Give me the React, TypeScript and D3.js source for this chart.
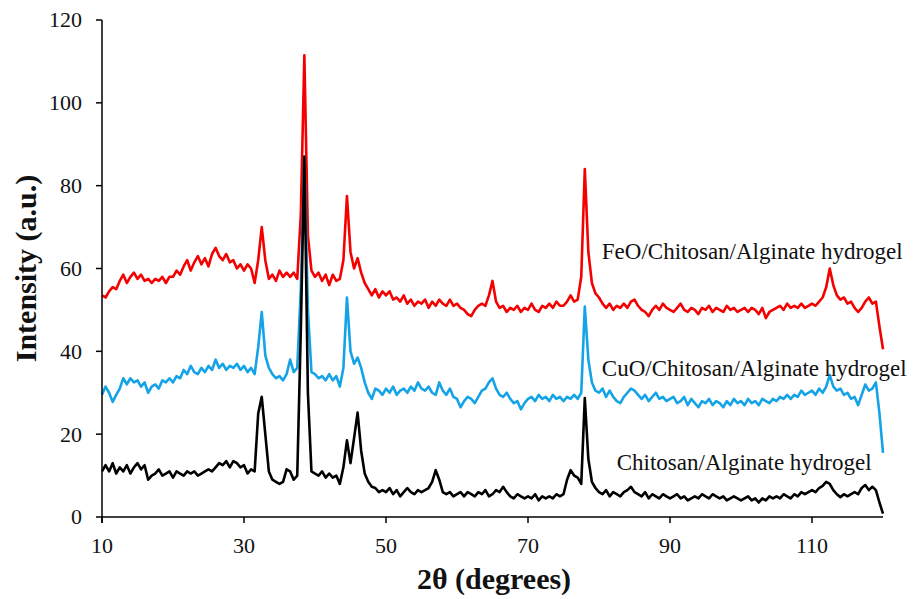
import React from "react";
import * as d3 from "d3";

// 2θ grid (degrees), 0.5° step from 10 to 120
const twoTheta: number[] = d3.range(0, 221).map((i) => 10 + i * 0.5);

const feoValues: number[] = [
  53.5, 53, 54.5, 55.5, 55, 57, 58.5, 56.5, 58, 59,
  57.5, 58.5, 57, 57.5, 56.5, 57.5, 57, 58, 56.5, 58,
  58, 59.5, 58.5, 60.5, 62, 59.5, 61.5, 63, 61, 62.5,
  60.5, 63.5, 65, 63, 62, 63.5, 61.5, 62, 60, 61,
  59.5, 61, 60, 56.5, 62, 70, 62, 57.5, 58.5, 57,
  59.5, 58, 59, 58, 59, 57.5, 73, 111.5, 68, 59.5,
  58, 59, 57, 58.5, 56, 58.5, 57, 57.5, 62, 77.5,
  64, 60, 62.5, 59, 56.5, 55, 53.5, 55, 53, 54.5,
  53.5, 54.5, 52.5, 53, 52, 53.5, 51.5, 52.5, 51, 52,
  51.5, 52.5, 50.5, 52, 51, 52.5, 51.5, 51, 52.5, 51,
  51.5, 50.5, 50, 49, 48.5, 50, 51, 51.5, 51, 53.5,
  57, 52, 50.5, 51, 49.5, 50.5, 50, 51, 49.5, 50.5,
  50, 51.5, 50, 49.5, 51, 50.5, 51.5, 50.5, 52, 51,
  51, 52, 53.5, 52, 52.5, 58, 84, 64, 56.5, 54,
  53, 51.5, 50.5, 51.5, 50, 51, 50.5, 51.5, 50.5, 52,
  52.5, 51, 50, 49.5, 48.5, 50, 51, 50, 51.5, 50.5,
  50, 49.5, 50.5, 51.5, 50, 49.5, 50.5, 50, 49, 50.5,
  50, 51, 49.5, 50.5, 50, 49.5, 51, 50, 50.5, 49.5,
  50, 50.5, 49.5, 50.5, 50, 49, 50.5, 48, 49.5, 50,
  50.5, 51, 50, 51.5, 50.5, 51, 50.5, 51.5, 50.5, 51,
  51.5, 51, 52, 53, 55.5, 60, 56, 53.5, 52.5, 53,
  51.5, 52, 50.5, 49.5, 50.5, 52, 53, 51.5, 52, 46,
  40.5,
];

const cuoValues: number[] = [
  29.5, 31.5, 30, 27.8, 29.5, 31, 33.5, 32, 33.5, 32.5,
  33, 31.5, 32.5, 30, 31.5, 32, 31, 33, 32.5, 33.5,
  32.5, 34, 33.5, 35.5, 34.5, 36.5, 35, 34.5, 36, 35,
  36.5, 35.5, 38, 36, 37, 35.5, 36.5, 36, 37, 35.5,
  36.5, 35, 36, 34.5, 41, 49.5, 39, 36, 34.5, 33.5,
  34, 33, 34.5, 38, 35, 36, 55, 87, 50, 35,
  34.5, 33.5, 34, 33, 34.5, 33, 34, 31.5, 36, 53,
  40, 37, 38.5, 36, 32.5, 30, 28.5, 31, 30.5, 29.5,
  31, 30, 31.5, 29.5, 30.5, 31, 30, 31.5, 30.5, 32.5,
  31, 30.5, 31.5, 30, 29.5, 32.5, 30.5, 29.5, 31, 29,
  28.5, 26.5, 28, 29, 28.5, 27.5, 29, 30.5, 31, 32.5,
  33.5, 31, 29.5, 29, 30, 28.5, 27.5, 28, 26, 27.5,
  28.5, 29, 28, 29.5, 28.5, 29, 28, 29.5, 28.5, 29,
  28, 29, 28.5, 29.5, 28.5, 30, 50.8, 38, 32.5, 30.5,
  30, 31, 29, 30.5, 29, 28, 27.5, 29, 30, 31,
  30.5, 29.5, 28.5, 29.5, 28, 29, 30, 28.5, 29, 28,
  28.5, 29, 27.5, 28, 29, 27, 28.5, 27.5, 26.5, 28,
  27.5, 28.5, 27, 28, 27.5, 26.5, 28, 27, 28.5, 27.5,
  28, 27, 28.5, 27.5, 28, 27, 28.5, 28, 27.5, 28.5,
  28, 29, 28.5, 29.5, 28.5, 29.5, 29, 30.5, 29.5, 30,
  30.5, 29.5, 31, 30, 31.5, 34.3, 31.5, 30.5, 31, 29.5,
  30, 28.5, 29, 27, 29.5, 32, 30.5, 31, 32.5, 25,
  15.5,
];

const chitosanValues: number[] = [
  11, 12.5, 11, 13, 10.5, 12, 11, 12.5, 10.5, 12,
  13, 11.5, 12.5, 9, 10, 10.5, 11.5, 10, 10.5, 11,
  9.5, 11, 10.5, 10, 11, 10.5, 11, 10, 10.5, 11,
  11.5, 11, 12, 13, 12.5, 13.5, 12, 13.5, 13, 12,
  12.5, 10.5, 11.5, 11, 25, 29, 20, 11, 9, 8.5,
  8, 8.5, 11.5, 11, 9, 10, 45, 87, 30, 11,
  10.5, 10, 11, 9.5, 10.5, 9.5, 10, 8, 12, 18.5,
  13, 19, 25.2, 16, 10.5, 8.5, 7.3, 7, 6, 6.5,
  6, 7, 5.5, 6.5, 5, 6, 7, 6, 5.5, 6.5,
  6, 6.5, 7, 8.5, 11.3, 9, 6, 5.5, 6, 5,
  5.5, 6, 5, 6, 5.5, 5, 6, 5.5, 6.5, 5,
  5.5, 6.5, 6, 7.3, 6, 5, 4.5, 5.5, 5, 4.5,
  5, 4.5, 5.5, 4, 5, 4.5, 5, 4.5, 5.5, 5,
  5.5, 9, 11.3, 10, 9.5, 8, 28.7, 14, 8.5, 7,
  6, 5.5, 6.5, 5, 6, 5.5, 5, 6, 6.5, 7.3,
  6, 5.5, 5, 6, 4.5, 5.5, 5, 4.5, 5.5, 5,
  4.5, 5, 5.5, 4.5, 5, 4, 4.5, 5, 4.5, 5.5,
  5, 4.5, 5.5, 5, 4.5, 5, 4, 4.5, 5, 4.5,
  4, 4.5, 5, 4, 4.5, 3.5, 4.5, 4, 5, 4.5,
  5, 4.5, 5.5, 5, 4.5, 5.5, 5, 6, 5.5, 6,
  6.5, 6, 7, 7.5, 8.5, 8, 6.5, 5.5, 4.8, 5.5,
  5, 5.5, 6, 5.5, 7, 7.7, 6.5, 7.3, 6.5, 3.5,
  0.8,
];

const xTicks: number[] = [10, 30, 50, 70, 90, 110];
const yTicks: number[] = [0, 20, 40, 60, 80, 100, 120];

const seriesNames: string[] = [
  "FeO/Chitosan/Alginate hydrogel",
  "CuO/Chitosan/Alginate hydrogel",
  "Chitosan/Alginate hydrogel",
];
const labelAnchors: [number, number][] = [
  [80.4, 62.3],
  [80.4, 34],
  [82.5, 11.3],
];
const seriesColors: string[] = ["#f40000", "#14a3e6", "#000000"];

const W = 913;
const H = 599;
const FONT = '"Liberation Serif", "Times New Roman", serif';

export default function App() {
  const x = d3.scaleLinear().domain([10, 120]).range([102, 883]);
  const y = d3.scaleLinear().domain([0, 120]).range([517, 20]);
  const line = d3
    .line<number>()
    .x((_, i) => x(twoTheta[i]))
    .y((d) => y(d));

  const series = [feoValues, cuoValues, chitosanValues];

  return (
    <svg
      width={W}
      height={H}
      viewBox={`0 0 ${W} ${H}`}
      style={{ position: "absolute", left: 0, top: 0, background: "#fff" }}
      fontFamily={FONT}
    >
      <rect x={0} y={0} width={W} height={H} fill="#fff" />
      {series.map((vals, si) => (
        <path
          key={si}
          d={line(vals) || ""}
          fill="none"
          stroke={seriesColors[si]}
          strokeWidth={2.6}
          strokeLinejoin="round"
        />
      ))}
      {/* axes */}
      <line x1={x(10)} x2={x(10)} y1={y(120)} y2={y(0) + 6} stroke="#000" strokeWidth={1.5} />
      <line x1={x(10)} x2={x(120)} y1={y(0)} y2={y(0)} stroke="#000" strokeWidth={1.5} />
      {yTicks.map((t) => (
        <g key={"y" + t}>
          <line x1={x(10) - 6} x2={x(10)} y1={y(t)} y2={y(t)} stroke="#000" strokeWidth={1.5} />
          <text x={82} y={y(t)} dy="0.34em" textAnchor="end" fontSize={22} fill="#111">
            {t}
          </text>
        </g>
      ))}
      {xTicks.map((t) => (
        <g key={"x" + t}>
          <line x1={x(t)} x2={x(t)} y1={y(0)} y2={y(0) + 6} stroke="#000" strokeWidth={1.5} />
          <text x={x(t)} y={553} textAnchor="middle" fontSize={22} fill="#111">
            {t}
          </text>
        </g>
      ))}
      <text x={494} y={589} textAnchor="middle" fontSize={30} fontWeight="bold" fill="#111">
        2θ (degrees)
      </text>
      <text
        transform={`translate(36, ${(y(0) + y(120)) / 2}) rotate(-90)`}
        textAnchor="middle"
        fontSize={30}
        fontWeight="bold"
        fill="#111"
      >
        Intensity (a.u.)
      </text>
      {seriesNames.map((n, i) => (
        <text
          key={n}
          x={x(labelAnchors[i][0])}
          y={y(labelAnchors[i][1])}
          fontSize={23}
          fill="#111"
        >
          {n}
        </text>
      ))}
    </svg>
  );
}
